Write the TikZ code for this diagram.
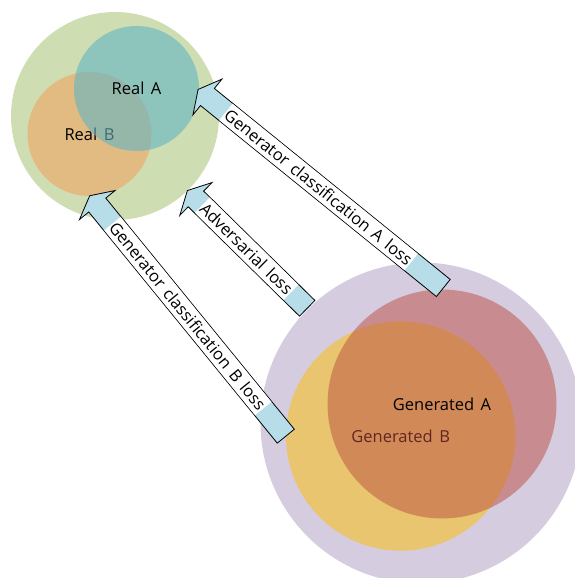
\documentclass[tikz,border=0pt]{standalone}
\usepackage{fontspec}
\setmainfont[WordSpace=1.5]{Open Sans}
\usetikzlibrary{calc}
\definecolor{cgreen}{RGB}{206,221,178}
\definecolor{corange}{RGB}{226,187,130}
\definecolor{cteal}{RGB}{99,181,195}
\definecolor{cpurple}{RGB}{213,204,224}
\definecolor{cyellow}{RGB}{233,197,111}
\definecolor{cred}{RGB}{189,78,66}
\definecolor{carrow}{RGB}{183,221,232}
\newcommand{\lossarrow}[6]{%
  \coordinate (#1-tail) at #2;
  \coordinate (#1-tip) at ($(#1-tail)+(#3:#4+12)$);
  \begin{scope}[shift={(#1-tail)}, rotate=#3]
    \draw[arrowbody] (0,-11) -- (#4,-11) -- (#4,-23) -- (#4+12,0) -- (#4,23) -- (#4,11) -- (0,11) -- cycle;
  \end{scope}
  \node[arrowlbl, rotate=#3-180] (#1-lbl) at ($(#1-tail)+(#3:#5)$) {#6};
}
\begin{document}
\begin{tikzpicture}[x=1pt,y=1pt,
  setcircle/.style={circle, inner sep=0pt, draw=none},
  lbl/.style={font=\fontsize{16.5}{20}\selectfont, inner sep=0pt, text=black},
  arrowbody/.style={fill=carrow, draw=black, line width=0.8pt, line join=miter},
  arrowlbl/.style={fill=white, font=\fontsize{16.5}{20}\selectfont, inner xsep=1pt, inner ysep=0pt, minimum height=21pt, text=black}]
\useasboundingbox (0,0) rectangle (575,578);
\clip (0,0) rectangle (575,578);
% real sets
\node[setcircle, fill=cgreen, minimum size=208pt] (real) at (115,462) {};
\node[setcircle, fill=corange, minimum size=124pt] (realBc) at (89.5,444) {};
\node[lbl] (realB) at (89.5,444) {Real B};
\node[setcircle, fill=cteal, fill opacity=0.6, minimum size=125pt] (realAc) at (136.5,489.5) {};
\node[lbl] (realA) at (136.5,489.5) {Real A};
% generated sets
\node[setcircle, fill=cpurple, minimum size=321pt] (gen) at (421,155) {};
\node[setcircle, fill=cyellow, minimum size=229.4pt] (genBc) at (400.7,142) {};
\node[lbl] (genB) at (400.7,142) {Generated B};
\node[setcircle, fill=cred, fill opacity=0.5, minimum size=229pt] (genAc) at (442,174) {};
\node[lbl] (genA) at (442,174) {Generated A};
% arrows
\lossarrow{la}{(443.3,290)}{141}{303.5}{160.5}{Generator classification A loss}
\lossarrow{adv}{(307.2,269.7)}{135.5}{156}{85}{Adversarial loss}
\lossarrow{lb}{(285.8,141.8)}{129.2}{298.3}{155}{Generator classification B loss}
\end{tikzpicture}
\end{document}
